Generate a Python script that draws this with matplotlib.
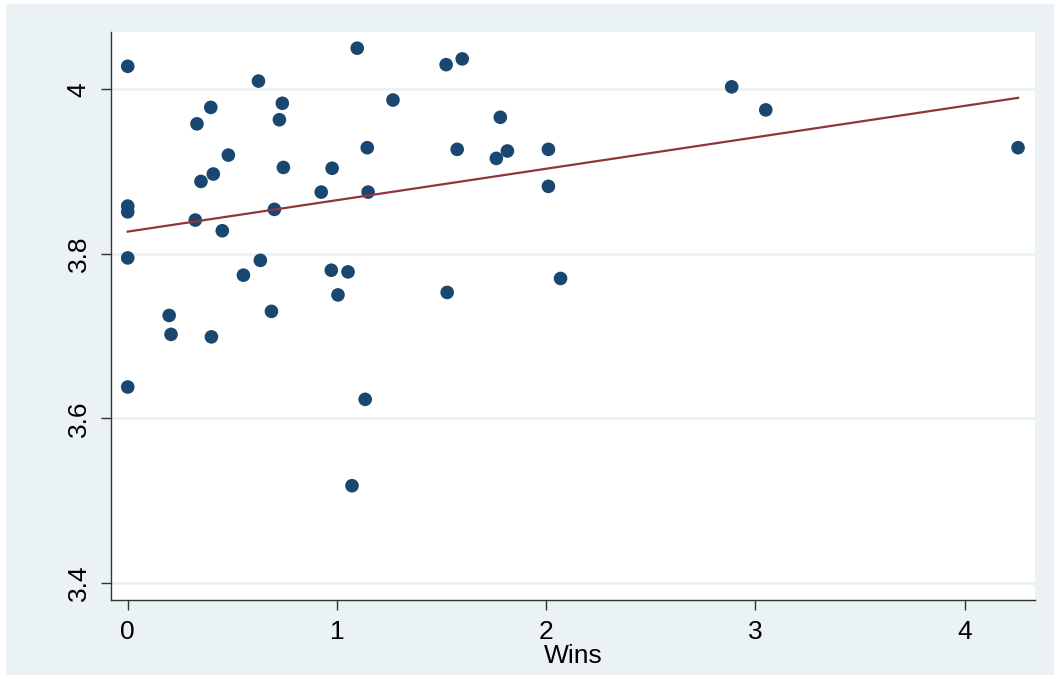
import numpy as np
import matplotlib
matplotlib.use("Agg")
import matplotlib.pyplot as plt
from matplotlib.patches import Rectangle

# wins vs. score
wins = [0.0, 0.0, 0.0, 0.0, 0.0,
        0.198, 0.207, 0.323, 0.331, 0.35, 0.40, 0.397, 0.409, 0.452, 0.481,
        0.553, 0.625, 0.634, 0.687, 0.701, 0.725, 0.739, 0.744,
        0.925, 0.973, 0.977, 1.005, 1.053, 1.072, 1.097, 1.135, 1.145, 1.149,
        1.268, 1.522, 1.527, 1.575, 1.599, 1.762, 1.781, 1.815,
        2.011, 2.011, 2.069, 2.887, 3.05, 4.256]
score = [4.028, 3.858, 3.851, 3.795, 3.638,
         3.725, 3.702, 3.841, 3.958, 3.888, 3.699, 3.978, 3.897, 3.828, 3.920,
         3.774, 4.010, 3.792, 3.730, 3.854, 3.963, 3.983, 3.905,
         3.875, 3.780, 3.904, 3.750, 3.778, 3.518, 4.050, 3.623, 3.929, 3.875,
         3.987, 4.030, 3.753, 3.927, 4.037, 3.916, 3.966, 3.925,
         3.927, 3.882, 3.770, 4.003, 3.975, 3.929]

x_ticks = [0, 1, 2, 3, 4]
y_ticks = [3.4, 3.6, 3.8, 4.0]
y_tick_labels = ["3.4", "3.6", "3.8", "4"]

bg = "#eaf2f3"
navy = "#1a476f"
maroon = "#90353b"

plt.rcParams["font.family"] = ["Liberation Sans", "DejaVu Sans"]

fig = plt.figure(figsize=(10.54, 6.75), dpi=100, facecolor="white")
# graph region (leaves a thin white strip at top and left)
fig.add_artist(Rectangle((6 / 1054, 0), 1, 671 / 675, transform=fig.transFigure,
                         facecolor=bg, edgecolor="none", zorder=-10))
ax = fig.add_axes([111 / 1054, 75 / 675, 924 / 1054, 568 / 675])
ax.set_facecolor("white")

x = np.array(wins)
y = np.array(score)
slope, icpt = np.polyfit(x, y, 1)
xs = np.array([x.min(), x.max()])

ax.scatter(x, y, s=9.8 ** 2, color=navy, edgecolors="none", zorder=3)
ax.plot(xs, icpt + slope * xs, color=maroon, lw=1.6, zorder=4)

ax.set_xlim(-0.08, 4.337)
ax.set_ylim(3.379, 4.0697)
ax.set_xticks(x_ticks)
ax.set_yticks(y_ticks)
ax.set_yticklabels(y_tick_labels, rotation=90, va="center")

ax.grid(axis="y", color=bg, lw=2.0, zorder=1)
ax.set_axisbelow(True)
for side in ["top", "right"]:
    ax.spines[side].set_visible(False)
for side in ["left", "bottom"]:
    ax.spines[side].set_color("#333333")
    ax.spines[side].set_linewidth(1.0)

ax.tick_params(axis="both", length=7.5, width=1.0, color="#333333",
               labelsize=19, pad=7)
ax.set_xlabel("Wins", fontsize=19, labelpad=0)

fig.savefig("out.png", dpi=100, facecolor=fig.get_facecolor())
